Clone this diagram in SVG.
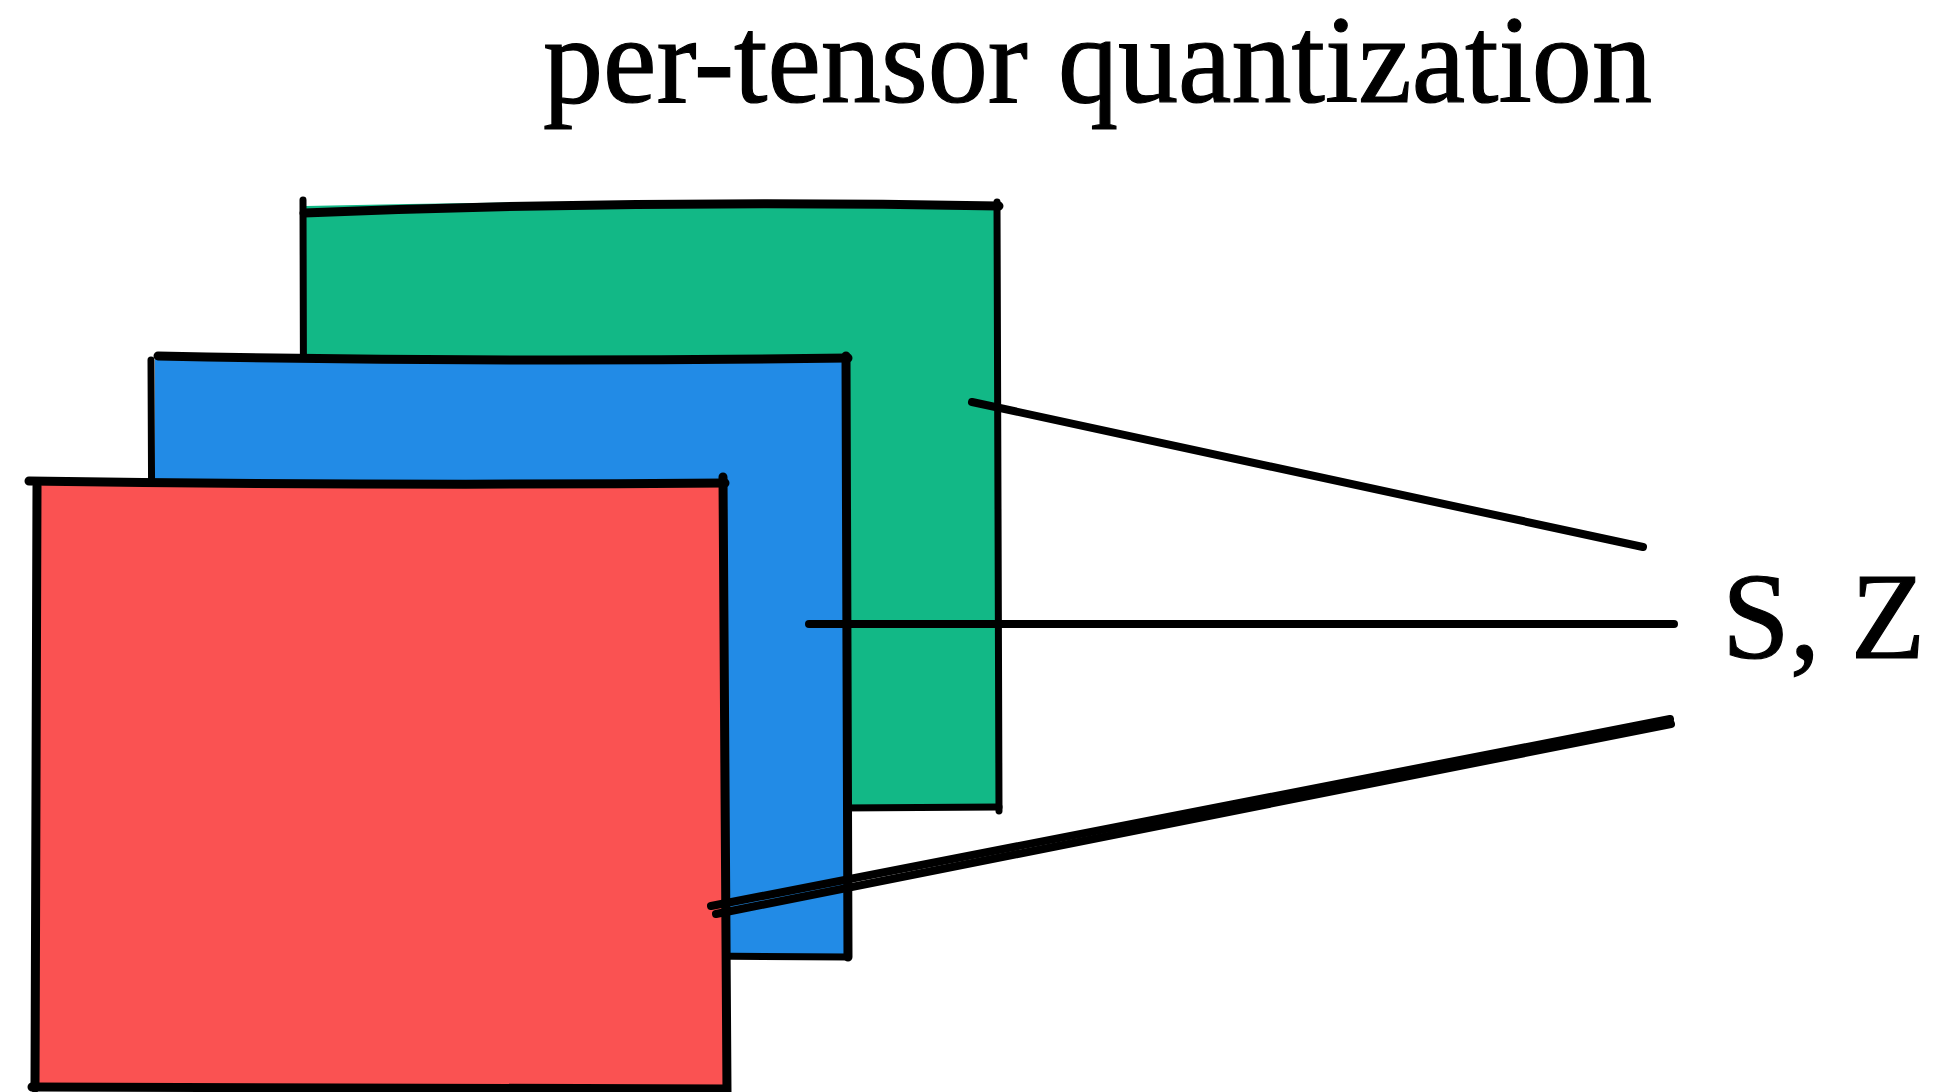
<svg xmlns="http://www.w3.org/2000/svg" width="1937" height="1092" viewBox="0 0 1937 1092">
<style>
.edge{fill:none;stroke:#000;stroke-linecap:round;stroke-linejoin:round}
.w9{stroke-width:9}
.w7{stroke-width:7}
.conn{fill:none;stroke:#000;stroke-width:8;stroke-linecap:round}
.title{font-family:"Liberation Serif","Times New Roman",serif;font-size:124px;fill:#000;stroke:#000;stroke-width:1.2}
.label{font-family:"Liberation Serif","Times New Roman",serif;font-size:122px;fill:#000;stroke:#000;stroke-width:1.2}
</style>
<rect width="1937" height="1092" fill="#fff"/>
<text class="title" x="543" y="102" textLength="1109" lengthAdjust="spacingAndGlyphs">per-tensor quantization</text>
<g id="green-tensor">
<path d="M306,206 Q650,198 997,205 L1000,809 L305,809 Z" fill="#12b886"/>
<path class="edge w9" d="M304,213 Q650,199 999,206"/>
<path class="edge w7" d="M303,200 L304,600"/>
<path class="edge w7" d="M997,202 L999,811"/>
<path class="edge w7" d="M840,808 L999,807"/>
</g>
<g id="blue-tensor">
<path d="M155,356 Q500,360 846,357 L847,956 L155,956 Z" fill="#228be6"/>
<path class="edge w9" d="M158,356 Q500,363 848,358"/>
<path class="edge w7" d="M151,360 L153,800"/>
<path class="edge w9" d="M846,356 L848,957"/>
<path class="edge w7" d="M700,956 L848,957"/>
</g>
<g id="red-tensor">
<path d="M33,484 Q380,484 723,484 L724,1087 L35,1087 Z" fill="#fa5252"/>
<path class="edge w9" d="M29,481 Q380,486 725,483"/>
<path class="edge w9" d="M37,486 L35,1088"/>
<path class="edge w9" d="M723,477 L727,1092"/>
<path class="edge w9" d="M32,1087 L726,1089"/>
</g>
<g id="connectors">
<path class="conn" d="M972,402 L1643,547"/>
<path class="conn" d="M809,624 L1674,624"/>
<path class="conn" d="M711,906 L1670,719" stroke-width="6"/>
<path class="conn" d="M716,914 L1671,724" stroke-width="5"/>
</g>
<g id="sz-label">
<text class="label" x="1722" y="658">S, Z</text>
</g>
</svg>
